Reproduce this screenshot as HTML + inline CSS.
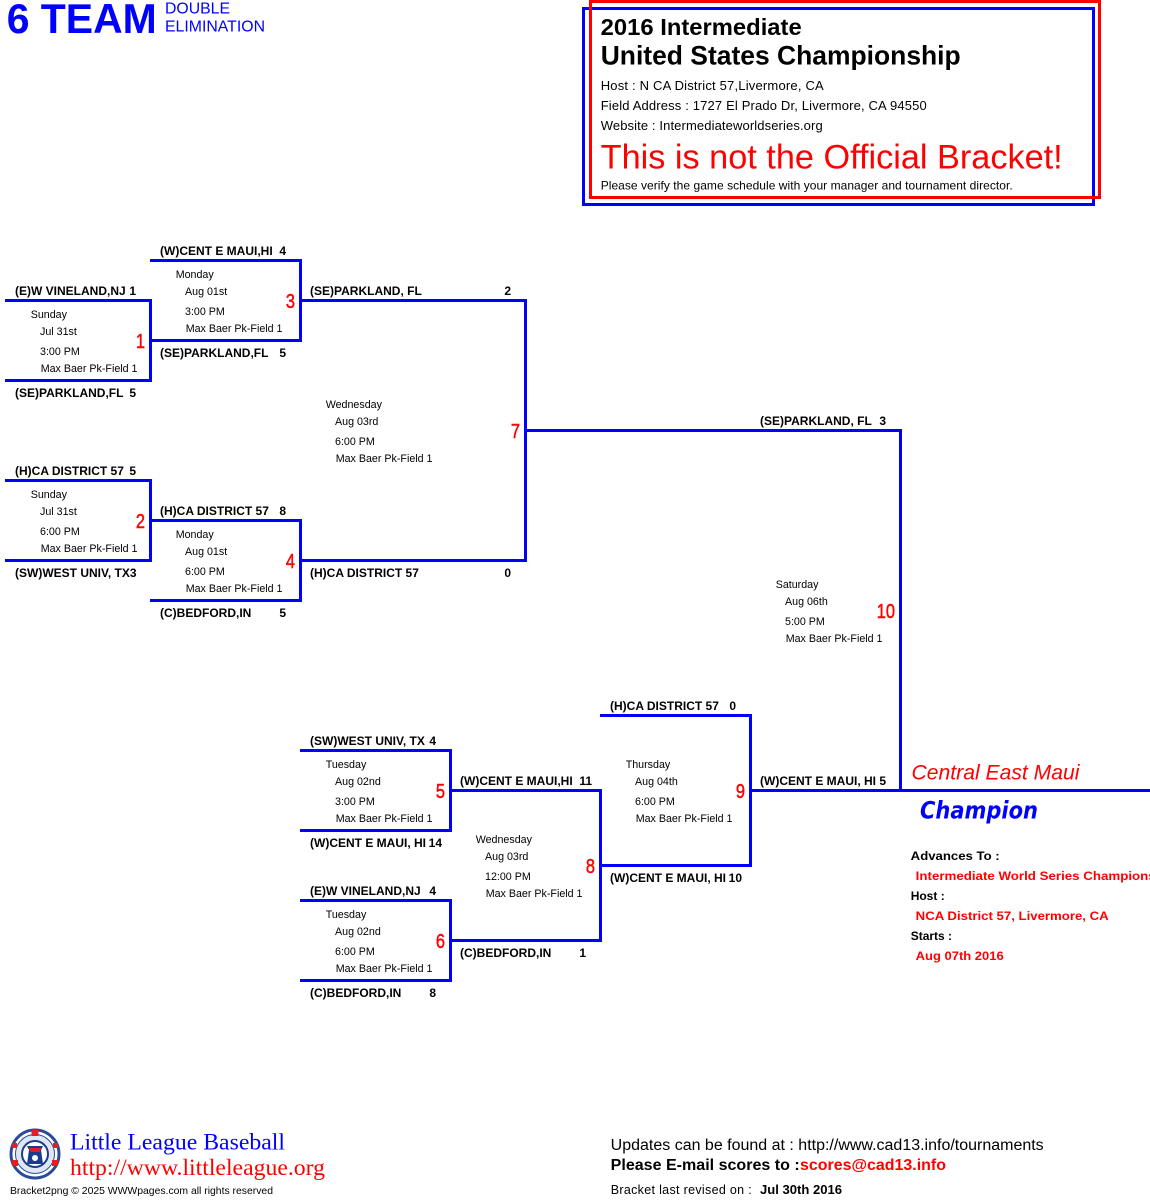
<!DOCTYPE html>
<html>
<head>
<meta charset="utf-8">
<style>
html,body{margin:0;padding:0;background:#fff;}
body{width:1150px;height:1200px;overflow:hidden;}
svg{display:block;}
.tm{font-family:"Liberation Sans",Arial,sans-serif;font-weight:bold;font-size:12px;fill:#000;}
.inf{font-family:"Liberation Sans",Arial,sans-serif;font-size:10.7px;fill:#000;}
.num{font-family:"Liberation Sans",Arial,sans-serif;font-size:20px;fill:#FF0000;stroke:#FF0000;stroke-width:0.5px;}
</style>
</head>
<body>
<svg width="1150" height="1200" viewBox="0 0 1150 1200" xmlns="http://www.w3.org/2000/svg">
<rect x="0" y="0" width="1150" height="1200" fill="#fff"/>

<!-- Title -->
<text x="6.7" y="33" font-family="Liberation Sans, Arial, sans-serif" font-weight="bold" font-size="42" fill="#0000FF" textLength="150" lengthAdjust="spacingAndGlyphs">6 TEAM</text>
<text x="165" y="13.5" font-family="Liberation Sans, Arial, sans-serif" font-size="15.5" fill="#0000FF" textLength="65" lengthAdjust="spacingAndGlyphs">DOUBLE</text>
<text x="165" y="31.7" font-family="Liberation Sans, Arial, sans-serif" font-size="15.5" fill="#0000FF" textLength="100" lengthAdjust="spacingAndGlyphs">ELIMINATION</text>

<!-- Header boxes -->
<rect x="583.5" y="8.5" width="510" height="196" fill="none" stroke="#0000FF" stroke-width="3"/>
<rect x="590.5" y="1.5" width="509" height="196" fill="none" stroke="#FF0000" stroke-width="3"/>
<text x="600.7" y="35" font-family="Liberation Sans, Arial, sans-serif" font-weight="bold" font-size="23.5" fill="#000" textLength="201" lengthAdjust="spacingAndGlyphs">2016 Intermediate</text>
<text x="600.7" y="64.5" font-family="Liberation Sans, Arial, sans-serif" font-weight="bold" font-size="26.5" fill="#000" textLength="360" lengthAdjust="spacingAndGlyphs">United States Championship</text>
<text x="600.7" y="90" font-family="Liberation Sans, Arial, sans-serif" font-size="13" fill="#000" textLength="223" lengthAdjust="spacing">Host : N CA District 57,Livermore, CA</text>
<text x="600.7" y="110" font-family="Liberation Sans, Arial, sans-serif" font-size="13" fill="#000" textLength="326" lengthAdjust="spacing">Field Address : 1727 El Prado Dr, Livermore, CA 94550</text>
<text x="600.7" y="130" font-family="Liberation Sans, Arial, sans-serif" font-size="13" fill="#000" textLength="222" lengthAdjust="spacing">Website : Intermediateworldseries.org</text>
<text x="600.7" y="168.5" font-family="Liberation Sans, Arial, sans-serif" font-size="34" fill="#FF0000" textLength="462" lengthAdjust="spacingAndGlyphs">This is not the Official Bracket!</text>
<text x="600.7" y="189.5" font-family="Liberation Sans, Arial, sans-serif" font-size="12" fill="#000" textLength="412" lengthAdjust="spacing">Please verify the game schedule with your manager and tournament director.</text>

<!-- Bracket lines -->
<g fill="#0000FF">
<rect x="5" y="299" width="147" height="3"/>
<rect x="5" y="379" width="147" height="3"/>
<rect x="149" y="299" width="3" height="83"/>
<rect x="5" y="479" width="147" height="3"/>
<rect x="5" y="559" width="147" height="3"/>
<rect x="149" y="479" width="3" height="83"/>
<rect x="150" y="259" width="152" height="3"/>
<rect x="150" y="339" width="152" height="3"/>
<rect x="299" y="259" width="3" height="83"/>
<rect x="150" y="519" width="152" height="3"/>
<rect x="150" y="599" width="152" height="3"/>
<rect x="299" y="519" width="3" height="83"/>
<rect x="300" y="299" width="227" height="3"/>
<rect x="300" y="559" width="227" height="3"/>
<rect x="524" y="299" width="3" height="263"/>
<rect x="525" y="429" width="377" height="3"/>
<rect x="899" y="429" width="3" height="363"/>
<rect x="750" y="789" width="400" height="3"/>
<rect x="300" y="749" width="152" height="3"/>
<rect x="300" y="829" width="152" height="3"/>
<rect x="449" y="749" width="3" height="83"/>
<rect x="300" y="899" width="152" height="3"/>
<rect x="300" y="979" width="152" height="3"/>
<rect x="449" y="899" width="3" height="83"/>
<rect x="450" y="789" width="152" height="3"/>
<rect x="450" y="939" width="152" height="3"/>
<rect x="599" y="789" width="3" height="153"/>
<rect x="600" y="714" width="152" height="3"/>
<rect x="600" y="864" width="152" height="3"/>
<rect x="749" y="714" width="3" height="153"/>
</g>

<!-- Team labels -->
<g class="tm">
<text x="15" y="295">(E)W VINELAND,NJ</text><text x="136" y="295" text-anchor="end">1</text>
<text x="15" y="397">(SE)PARKLAND,FL</text><text x="136" y="397" text-anchor="end">5</text>
<text x="15" y="475">(H)CA DISTRICT 57</text><text x="136" y="475" text-anchor="end">5</text>
<text x="15" y="577">(SW)WEST UNIV, TX3</text>
<text x="160" y="255">(W)CENT E MAUI,HI</text><text x="286" y="255" text-anchor="end">4</text>
<text x="160" y="357">(SE)PARKLAND,FL</text><text x="286" y="357" text-anchor="end">5</text>
<text x="160" y="515">(H)CA DISTRICT 57</text><text x="286" y="515" text-anchor="end">8</text>
<text x="160" y="617">(C)BEDFORD,IN</text><text x="286" y="617" text-anchor="end">5</text>
<text x="310" y="295">(SE)PARKLAND, FL</text><text x="511" y="295" text-anchor="end">2</text>
<text x="310" y="577">(H)CA DISTRICT 57</text><text x="511" y="577" text-anchor="end">0</text>
<text x="760" y="425">(SE)PARKLAND, FL</text><text x="886" y="425" text-anchor="end">3</text>
<text x="760" y="785">(W)CENT E MAUI, HI</text><text x="886" y="785" text-anchor="end">5</text>
<text x="310" y="745">(SW)WEST UNIV, TX</text><text x="436" y="745" text-anchor="end">4</text>
<text x="310" y="847">(W)CENT E MAUI, HI</text><text x="442" y="847" text-anchor="end">14</text>
<text x="310" y="895">(E)W VINELAND,NJ</text><text x="436" y="895" text-anchor="end">4</text>
<text x="310" y="997">(C)BEDFORD,IN</text><text x="436" y="997" text-anchor="end">8</text>
<text x="460" y="785">(W)CENT E MAUI,HI</text><text x="592" y="785" text-anchor="end">11</text>
<text x="460" y="957">(C)BEDFORD,IN</text><text x="586" y="957" text-anchor="end">1</text>
<text x="610" y="710">(H)CA DISTRICT 57</text><text x="736" y="710" text-anchor="end">0</text>
<text x="610" y="882">(W)CENT E MAUI, HI</text><text x="742" y="882" text-anchor="end">10</text>
</g>

<!-- Match info -->
<g class="inf">
<text x="30.7" y="318">Sunday</text><text x="40" y="335">Jul 31st</text><text x="40" y="355">3:00 PM</text><text x="40.7" y="372">Max Baer Pk-Field 1</text>
<text x="30.7" y="498">Sunday</text><text x="40" y="515">Jul 31st</text><text x="40" y="535">6:00 PM</text><text x="40.7" y="552">Max Baer Pk-Field 1</text>
<text x="175.7" y="278">Monday</text><text x="185" y="295">Aug 01st</text><text x="185" y="315">3:00 PM</text><text x="185.7" y="332">Max Baer Pk-Field 1</text>
<text x="175.7" y="538">Monday</text><text x="185" y="555">Aug 01st</text><text x="185" y="575">6:00 PM</text><text x="185.7" y="592">Max Baer Pk-Field 1</text>
<text x="325.7" y="408">Wednesday</text><text x="335" y="425">Aug 03rd</text><text x="335" y="445">6:00 PM</text><text x="335.7" y="462">Max Baer Pk-Field 1</text>
<text x="775.7" y="588">Saturday</text><text x="785" y="605">Aug 06th</text><text x="785" y="625">5:00 PM</text><text x="785.7" y="642">Max Baer Pk-Field 1</text>
<text x="325.7" y="768">Tuesday</text><text x="335" y="785">Aug 02nd</text><text x="335" y="805">3:00 PM</text><text x="335.7" y="822">Max Baer Pk-Field 1</text>
<text x="325.7" y="918">Tuesday</text><text x="335" y="935">Aug 02nd</text><text x="335" y="955">6:00 PM</text><text x="335.7" y="972">Max Baer Pk-Field 1</text>
<text x="475.7" y="843">Wednesday</text><text x="485" y="860">Aug 03rd</text><text x="485" y="880">12:00 PM</text><text x="485.7" y="897">Max Baer Pk-Field 1</text>
<text x="625.7" y="768">Thursday</text><text x="635" y="785">Aug 04th</text><text x="635" y="805">6:00 PM</text><text x="635.7" y="822">Max Baer Pk-Field 1</text>
</g>

<!-- Match numbers -->
<g class="num" text-anchor="end">
<text transform="translate(145,348) scale(0.82,1)">1</text>
<text transform="translate(145,528) scale(0.82,1)">2</text>
<text transform="translate(295,308) scale(0.82,1)">3</text>
<text transform="translate(295,568) scale(0.82,1)">4</text>
<text transform="translate(520,438) scale(0.82,1)">7</text>
<text transform="translate(895,618) scale(0.82,1)">10</text>
<text transform="translate(445,798) scale(0.82,1)">5</text>
<text transform="translate(445,948) scale(0.82,1)">6</text>
<text transform="translate(595,873) scale(0.82,1)">8</text>
<text transform="translate(745,798) scale(0.82,1)">9</text>
</g>

<!-- Champion -->
<text x="911.5" y="779.5" font-family="Liberation Sans, Arial, sans-serif" font-style="italic" font-size="21" fill="#FF0000" textLength="168" lengthAdjust="spacingAndGlyphs">Central East Maui</text>
<text x="920" y="818.5" font-family="DejaVu Sans, Liberation Sans, sans-serif" font-style="italic" font-weight="bold" font-size="24" fill="#0000FF" textLength="118" lengthAdjust="spacingAndGlyphs">Champion</text>
<g font-family="Liberation Sans, Arial, sans-serif" font-weight="bold" font-size="12">
<text x="910.7" y="860" fill="#000" textLength="89" lengthAdjust="spacingAndGlyphs">Advances To :</text>
<text x="915.7" y="880" fill="#FF0000" textLength="240" lengthAdjust="spacingAndGlyphs">Intermediate World Series Champions</text>
<text x="910.7" y="900" fill="#000">Host :</text>
<text x="915.7" y="920" fill="#FF0000" textLength="193" lengthAdjust="spacingAndGlyphs">NCA District 57, Livermore, CA</text>
<text x="910.7" y="940" fill="#000">Starts :</text>
<text x="915.7" y="960" fill="#FF0000" textLength="88" lengthAdjust="spacingAndGlyphs">Aug 07th 2016</text>
</g>

<!-- Logo -->
<g>
<circle cx="35" cy="1154" r="24" fill="#ffffff" stroke="#2a4a9a" stroke-width="3"/>
<circle cx="35" cy="1154" r="19.5" fill="#dfe6f4" stroke="#2a4a9a" stroke-width="1"/>
<circle cx="35" cy="1154" r="13" fill="#ffffff" stroke="#1a3c8c" stroke-width="2"/>
<rect x="31.5" y="1130" width="7" height="6" fill="#e02020"/>
<rect x="12" y="1160" width="6" height="6" fill="#e02020"/>
<rect x="52" y="1160" width="6" height="6" fill="#e02020"/>
<rect x="12" y="1143" width="5" height="5" fill="#e02020"/>
<rect x="53" y="1143" width="5" height="5" fill="#e02020"/>
<path d="M27 1146 L43 1146 L41 1150 L43 1164 L27 1164 L29 1150 Z" fill="#1a3c8c"/>
<path d="M29 1148 L41 1148 L39.5 1152 L30.5 1152 Z" fill="#e02020"/>
<circle cx="35" cy="1158" r="3" fill="#ffffff"/>
</g>
<text x="70" y="1149.5" font-family="Liberation Serif, Times New Roman, serif" font-size="23.5" fill="#0000FF" textLength="215" lengthAdjust="spacingAndGlyphs">Little League Baseball</text>
<text x="70" y="1175" font-family="Liberation Serif, Times New Roman, serif" font-size="23.5" fill="#FF0000" textLength="255" lengthAdjust="spacingAndGlyphs">http://www.littleleague.org</text>
<text x="10" y="1194" font-family="Liberation Sans, Arial, sans-serif" font-size="10.5" fill="#000" textLength="263" lengthAdjust="spacingAndGlyphs">Bracket2png © 2025 WWWpages.com all rights reserved</text>

<!-- Bottom right -->
<text x="610.7" y="1150" font-family="Liberation Sans, Arial, sans-serif" font-size="15.5" fill="#000" textLength="433" lengthAdjust="spacingAndGlyphs">Updates can be found at : http://www.cad13.info/tournaments</text>
<text x="610.7" y="1170" font-family="Liberation Sans, Arial, sans-serif" font-weight="bold" font-size="15.5" fill="#000" textLength="189" lengthAdjust="spacingAndGlyphs">Please E-mail scores to :</text>
<text x="800" y="1170" font-family="Liberation Sans, Arial, sans-serif" font-weight="bold" font-size="15.5" fill="#FF0000" textLength="146" lengthAdjust="spacingAndGlyphs">scores@cad13.info</text>
<text x="610.7" y="1194" font-family="Liberation Sans, Arial, sans-serif" font-size="12.5" fill="#000" textLength="141" lengthAdjust="spacing">Bracket last revised on :</text>
<text x="760" y="1194" font-family="Liberation Sans, Arial, sans-serif" font-weight="bold" font-size="12.5" fill="#000" textLength="82" lengthAdjust="spacingAndGlyphs">Jul 30th 2016</text>
</svg>
</body>
</html>
